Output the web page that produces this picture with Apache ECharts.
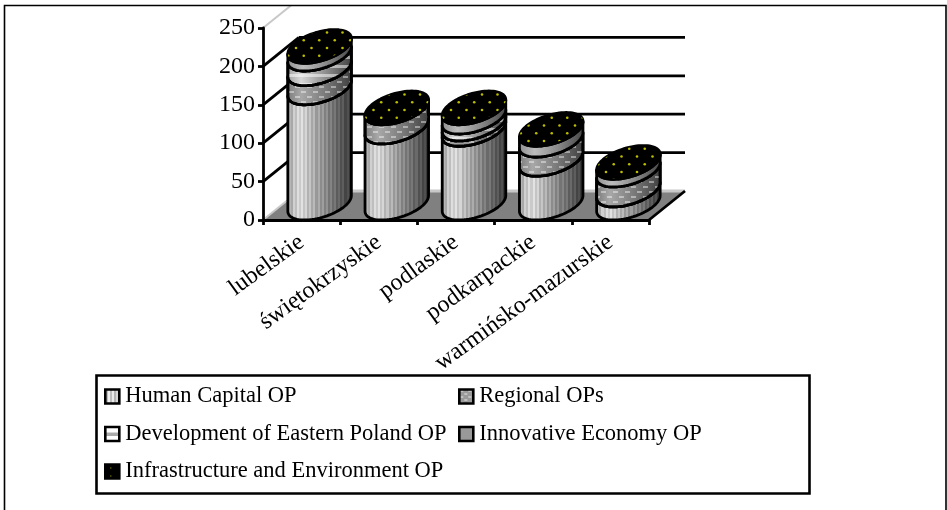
<!DOCTYPE html>
<html>
<head>
<meta charset="utf-8">
<script src="https://cdn.jsdelivr.net/npm/echarts@6/dist/echarts.min.js"></script>
<style>
  html, body { margin: 0; padding: 0; background: #fff; }
  #main { width: 947px; height: 510px; }
</style>
</head>
<body>
<div id="main"></div>
<script>
var categories = ['lubelskie', 'świętokrzyskie', 'podlaskie', 'podkarpackie', 'warmińsko-mazurskie']
var yTicks = [0, 50, 100, 150, 200, 250]
var humanCapital = [150, 99, 96, 57, 17]
var regional = [25, 25, 7, 25, 26]
var development = [19, 0, 9, 0, 0]
var innovative = [10, 0, 12, 14, 10]
var infrastructure = [1, 1, 1, 1, 1]

var seriesNames = ['Human Capital OP', 'Regional OPs', 'Development of Eastern Poland OP', 'Innovative Economy OP', 'Infrastructure and Environment OP']
var seriesValues = [humanCapital, regional, development, innovative, infrastructure]

// depth of the fake 3d floor, and the tilted circle the cylinders are made of
var depthX = 36
var depthY = 29
var radiusX = 28
var tiltX = 15
var tiltY = 16.5
var outline = 2.8
var font = 'Liberation Serif'

function makePattern(w, h, draw) {
  var c = document.createElement('canvas')
  c.width = w
  c.height = h
  draw(c.getContext('2d'))
  return { image: c, repeat: 'repeat' }
}

// yellow specks of the infrastructure cap
var speckFill = makePattern(31, 31, function(ctx) {
  ctx.fillStyle = '#bcbc00'
  for (var r = 0; r < 4; r++) {
    for (var k = 0; k < 2; k++) {
      ctx.beginPath()
      ctx.arc(1.5 + (r % 2) * 7.75 + k * 15.5, 1.5 + r * 7.75, 1.3, 0, Math.PI * 2)
      ctx.fill()
    }
  }
})
// light bubbles of the regional band
var bubbleFill = makePattern(12, 10, function(ctx) {
  ctx.fillStyle = 'rgba(255,255,255,0.42)'
  ctx.fillRect(1, 1, 5, 2)
  ctx.fillRect(7, 6, 5, 2)
})
// horizontal lines of the development band
var lineFill = makePattern(4, 9, function(ctx) {
  ctx.fillStyle = 'rgba(255,255,255,0.5)'
  ctx.fillRect(0, 2, 4, 3)
})
var regionalIcon = makePattern(8, 6, function(ctx) {
  ctx.fillStyle = '#9a9a9a'
  ctx.fillRect(0, 0, 8, 6)
  ctx.fillStyle = '#e8e8e8'
  ctx.fillRect(1, 1, 3, 1)
  ctx.fillRect(5, 4, 3, 1)
})
var infraIcon = makePattern(8, 8, function(ctx) {
  ctx.fillStyle = '#000'
  ctx.fillRect(0, 0, 8, 8)
  ctx.fillStyle = '#bcbc00'
  ctx.fillRect(5, 3, 1, 1)
})

function stripes(levels) {
  var stops = []
  levels.forEach(function(g, i) {
    var col = 'rgb(' + g + ',' + g + ',' + g + ')'
    stops.push({ offset: i / levels.length, color: col })
    stops.push({ offset: (i + 1) / levels.length, color: col })
  })
  return { type: 'linear', x: 0, y: 0, x2: 1, y2: 0, colorStops: stops }
}

var stripedFill = stripes([150, 182, 168, 208, 190, 222, 202, 226, 196, 214, 178, 198, 166, 186, 152, 172, 140, 158, 128, 146, 116, 132, 106, 120, 92, 106, 80, 94, 68, 80, 58, 50])
var smoothFill = {
  type: 'linear', x: 0, y: 0, x2: 1, y2: 0,
  colorStops: [
    { offset: 0, color: '#9c9c9c' },
    { offset: 0.22, color: '#d8d8d8' },
    { offset: 0.6, color: '#8c8c8c' },
    { offset: 1, color: '#404040' }
  ]
}
var darkFill = {
  type: 'linear', x: 0, y: 0, x2: 1, y2: 0,
  colorStops: [
    { offset: 0, color: '#787878' },
    { offset: 0.22, color: '#a8a8a8' },
    { offset: 0.6, color: '#787878' },
    { offset: 1, color: '#3c3c3c' }
  ]
}
var greyFill = {
  type: 'linear', x: 0, y: 0, x2: 1, y2: 0,
  colorStops: [
    { offset: 0, color: '#8c8c8c' },
    { offset: 0.25, color: '#bcbcbc' },
    { offset: 0.6, color: '#8a8a8a' },
    { offset: 1, color: '#444' }
  ]
}
var sideFills = [stripedFill, darkFill, smoothFill, greyFill, '#000']
var sideOverlays = [null, bubbleFill, lineFill, null, null]

function ellipsePoint(cx, cy, t) {
  return [cx + radiusX * Math.cos(t) + tiltX * Math.sin(t), cy - tiltY * Math.sin(t)]
}

function frontArc(cx, cy, reverse) {
  var t0 = Math.atan2(tiltX, radiusX)
  var pts = []
  for (var i = 0; i <= 40; i++) {
    var a = i / 40
    pts.push(ellipsePoint(cx, cy, t0 - Math.PI * (reverse ? 1 - a : a)))
  }
  return pts
}

function fullEllipse(cx, cy) {
  var pts = []
  for (var i = 0; i < 80; i++) {
    pts.push(ellipsePoint(cx, cy, i / 80 * Math.PI * 2))
  }
  return pts
}

function lineStyleOf(fill) {
  return { fill: fill, stroke: '#000', lineWidth: outline, lineJoin: 'round' }
}

function makeRenderCylinder(idx) {
  return function(params, api) {
    var cat = api.value(0)
    var base = api.value(1)
    var val = api.value(2)
    var children = []
    var lower = api.coord([cat, base])
    var upper = api.coord([cat, base + val])
    var cx = lower[0] + depthX / 2
    var yLow = lower[1] - depthY / 2 - 2
    var yUp = upper[1] - depthY / 2 - 2
    if (val > 0) {
      var pts = frontArc(cx, yUp, false).concat(frontArc(cx, yLow, true))
      children.push({ type: 'polygon', shape: { points: pts }, style: lineStyleOf(sideFills[idx]) })
      if (sideOverlays[idx]) {
        children.push({ type: 'polygon', silent: true, shape: { points: pts }, style: { fill: sideOverlays[idx] } })
        children.push({ type: 'polygon', silent: true, shape: { points: pts }, style: { fill: 'none', stroke: '#000', lineWidth: outline, lineJoin: 'round' } })
      }
    }
    if (idx === seriesValues.length - 1) {
      var cap = fullEllipse(cx, yUp)
      children.push({ type: 'polygon', shape: { points: cap }, style: lineStyleOf('#000') })
      children.push({ type: 'polygon', silent: true, shape: { points: cap }, style: { fill: speckFill } })
    }
    return { type: 'group', children: children }
  }
}

function renderWalls(params, api) {
  var band = api.size([1, 0])[0]
  var p0 = api.coord([0, 0])
  var p1 = api.coord([categories.length - 1, 0])
  var left = p0[0] - band / 2
  var right = p1[0] + band / 2
  var floorY = p0[1]
  var children = [{
    type: 'polygon',
    shape: { points: [[left, floorY], [right, floorY], [right + depthX, floorY - depthY], [left + depthX, floorY - depthY]] },
    style: { fill: '#808080', stroke: null }
  }]
  yTicks.forEach(function(v) {
    var y = api.coord([0, v])[1]
    var edge = v === 0 || v === yTicks[yTicks.length - 1]
    children.push({
      type: 'line',
      shape: { x1: left, y1: y, x2: left + depthX, y2: y - depthY },
      style: { stroke: edge ? '#c8c8c8' : '#000', lineWidth: edge ? 2 : outline }
    })
    if (v !== yTicks[yTicks.length - 1]) {
      children.push({
        type: 'line',
        shape: { x1: left + depthX, y1: y - depthY, x2: right + depthX, y2: y - depthY },
        style: { stroke: v === 0 ? '#c8c8c8' : '#000', lineWidth: outline }
      })
    }
  })
  children.push({
    type: 'line',
    shape: { x1: right, y1: floorY, x2: right + depthX, y2: floorY - depthY },
    style: { stroke: '#000', lineWidth: outline }
  })
  return { type: 'group', children: children }
}

var series = [{
  name: 'walls',
  type: 'custom',
  silent: true,
  renderItem: renderWalls,
  clip: false,
  z: 1,
  data: [[0, 0]]
}]

var running = categories.map(function() { return 0 })
seriesNames.forEach(function(name, idx) {
  var values = seriesValues[idx]
  series.push({
    name: name,
    type: 'custom',
    renderItem: makeRenderCylinder(idx),
    clip: false,
    z: 2 + idx,
    encode: { x: 0, y: [1, 2] },
    itemStyle: { color: idx === 4 ? '#000' : '#999' },
    data: categories.map(function(c, i) {
      var row = [i, running[i], values[i]]
      running[i] += values[i]
      return row
    })
  })
})

function legendItem(i) {
  var fills = [
    stripes([235, 190, 240, 190, 235, 180, 215, 170]),
    regionalIcon,
    { type: 'linear', x: 0, y: 0, x2: 0, y2: 1, colorStops: [{ offset: 0, color: '#fff' }, { offset: 0.4, color: '#fff' }, { offset: 0.42, color: '#aaa' }, { offset: 0.6, color: '#aaa' }, { offset: 0.62, color: '#fff' }, { offset: 1, color: '#fff' }] },
    '#999',
    infraIcon
  ]
  return { name: seriesNames[i], icon: 'rect', itemStyle: { color: fills[i], borderColor: '#000', borderWidth: 2.6 } }
}

function legendColumn(items, left) {
  return {
    orient: 'vertical',
    left: left,
    top: 384,
    itemWidth: 14,
    itemHeight: 14,
    itemGap: 12.5,
    padding: 0,
    selectedMode: false,
    data: items.map(legendItem),
    textStyle: { fontFamily: font, fontSize: 22.5, color: '#000', padding: [0, 0, 0, 1], lineHeight: 25 }
  }
}

var option = {
  animation: false,
  backgroundColor: '#fff',
  textStyle: { fontFamily: font },
  grid: { left: 263, right: 298, top: 28, bottom: 290, containLabel: false },
  legend: [legendColumn([0, 2, 4], 104), legendColumn([1, 3], 458)],
  xAxis: {
    type: 'category',
    data: categories,
    z: 20,
    axisTick: { show: true, length: 5, lineStyle: { color: '#000', width: outline } },
    axisLine: { lineStyle: { color: '#000', width: outline } },
    axisLabel: { interval: 0, rotate: 36, fontFamily: font, fontSize: 24, color: '#000', margin: 20 }
  },
  yAxis: {
    type: 'value',
    min: 0,
    max: 250,
    interval: 50,
    z: 20,
    splitLine: { show: false },
    axisTick: { show: true, length: 5, lineStyle: { color: '#000', width: outline } },
    axisLine: { show: true, lineStyle: { color: '#000', width: outline } },
    axisLabel: { fontFamily: font, fontSize: 24, color: '#000', margin: 8, padding: [5, 0, 0, 0] }
  },
  graphic: [
    { type: 'rect', z: 50, silent: true, shape: { x: 0, y: 0, width: 947, height: 5 }, style: { fill: '#fff' } },
    { type: 'polyline', z: 51, silent: true, shape: { points: [[4.5, 510], [4.5, 5.5], [946, 5.5], [946, 510]] }, style: { fill: 'none', stroke: '#000', lineWidth: 1.6 } },
    { type: 'rect', z: 51, silent: true, shape: { x: 96.5, y: 375.5, width: 713, height: 118 }, style: { fill: 'none', stroke: '#000', lineWidth: 2.6 } }
  ],
  series: series
}

var chart = echarts.init(document.getElementById('main'))
chart.setOption(option)
</script>
</body>
</html>
